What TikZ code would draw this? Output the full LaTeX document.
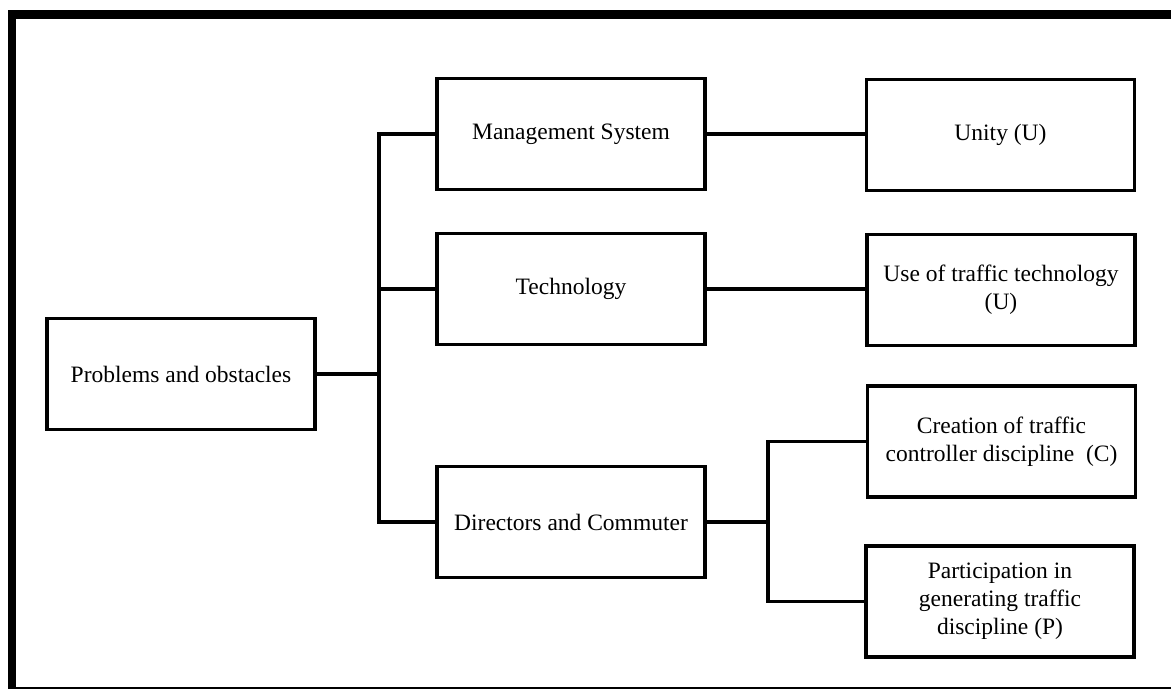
\documentclass[tikz,border=0pt]{standalone}
\usepackage{fontspec}
\setmainfont{Liberation Serif}
\begin{document}
\begin{tikzpicture}[x=1pt,y=-1pt,
  box/.style={draw=black, line width=3.5pt, rectangle, align=center,
    minimum width=268pt, minimum height=111pt, inner sep=4pt,
    font=\fontsize{23.5}{28}\selectfont},
  link/.style={draw=black, line width=3.5pt},
  frame/.style={draw=black}]
\useasboundingbox (0,0) rectangle (1171,689);
% outer frame
\draw[frame, line width=9pt] (8,14.5) -- (1171,14.5);
\draw[frame, line width=8pt] (12,10) -- (12,689);
\draw[frame, line width=1.5pt] (12,688) -- (1171,688);
% boxes
\node[box] (prob)    at (181,374) {Problems and obstacles};
\node[box] (mgmt)    at (571,134) {Management System};
\node[box] (tech)    at (571,289)   {Technology};
\node[box] (dir)     at (571,522)   {Directors and Commuter};
\node[box] (unity)   at (1000.5,135) {Unity (U)};
\node[box] (usetech) at (1001,290)  {Use of traffic technology\\(U)};
\node[box] (creat)   at (1001.5,441.5) {Creation of traffic\\controller discipline\ \ (C)};
\node[box] (part)    at (1000,601.5) {Participation in\\generating traffic\\discipline\ (P)};
% branch points
\coordinate (jA) at (379,0);
\coordinate (jB) at (768,0);
% main tree
\draw[link] (prob.east) -- (prob.east -| jA);
\draw[link] (mgmt.west) -- (mgmt.west -| jA) -- (dir.west -| jA) -- (dir.west);
\draw[link] (tech.west) -- (tech.west -| jA);
\draw[link] (mgmt.east) -- (mgmt.east -| unity.west);
\draw[link] (tech.east) -- (tech.east -| usetech.west);
% directors fork
\draw[link] (dir.east) -- (dir.east -| jB);
\draw[link] (creat.west) -- (creat.west -| jB) -- (part.west -| jB) -- (part.west);
\end{tikzpicture}
\end{document}
